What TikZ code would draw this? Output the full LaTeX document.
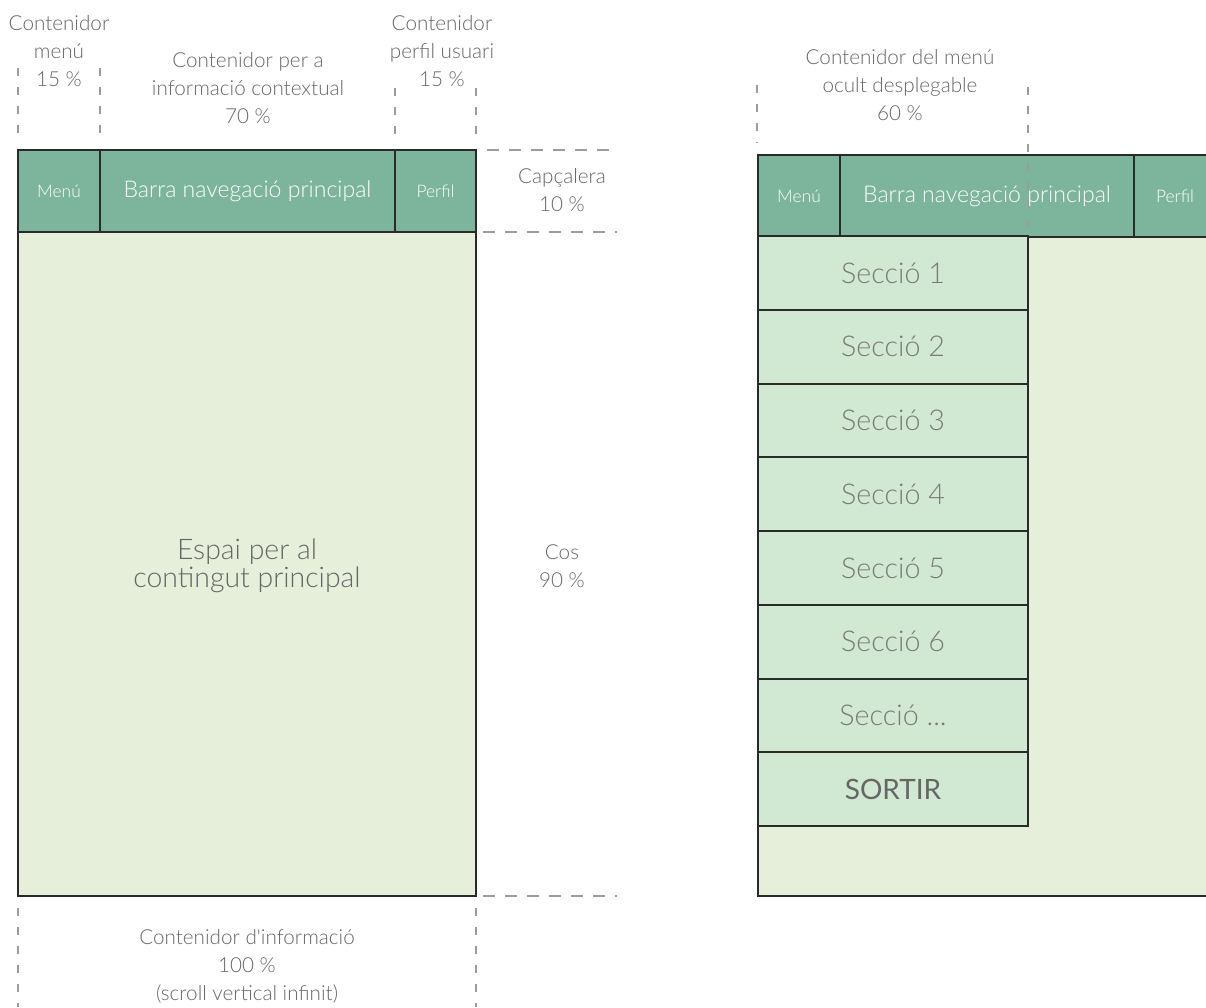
\documentclass[tikz,border=0pt]{standalone}
\usepackage{fontspec}
\setmainfont{Lato}[UprightFont=* Light, BoldFont=* Regular]
\usepackage{xcolor}
\usetikzlibrary{positioning}

\definecolor{capgreen}{HTML}{7DB59C}
\definecolor{cosgreen}{HTML}{E6EFDA}
\definecolor{secgreen}{HTML}{D1E8D3}
\definecolor{labelgray}{HTML}{666666}
\definecolor{secgray}{HTML}{7A7A7A}
\definecolor{guidegray}{HTML}{9C9C9C}
\definecolor{edgegray}{HTML}{2A2A2A}

% one pixel of the layout
\newcommand{\pxu}{0.75pt}

\begin{document}
\begin{tikzpicture}[x=0.75pt, y=-0.75pt, node distance=0pt,
                box/.style={draw=edgegray, line width=1.5pt, inner sep=0pt, outer sep=0pt},
                capcell/.style={box, fill=capgreen, text=white, minimum height=82*\pxu},
                seccell/.style={box, fill=secgreen, text=secgray, minimum width=270*\pxu,
                                minimum height=73.75*\pxu, font=\fontsize{21.5}{24}\selectfont},
                label/.style={text=labelgray, align=center, font=\fontsize{15.5}{21}\selectfont},
                vguide/.style={draw=guidegray, line width=1.6pt, dash pattern=on 8*\pxu off 11*\pxu},
                hguide/.style={draw=guidegray, line width=1.6pt, dash pattern=on 12*\pxu off 10*\pxu}]

      \useasboundingbox (0,0) rectangle (1206,1007);
      \clip (0,0) rectangle (1206,1007);

      % ---- pantalla principal
      \draw[box, fill=cosgreen] (18,232) rectangle (476,896);
      \node[capcell, anchor=north west, minimum width=82*\pxu, font=\fontsize{13}{15}\selectfont] (menu) at (18,150) {Menú};
      \node[capcell, minimum width=295*\pxu, font=\fontsize{17.3}{20}\selectfont] (nav) [right=of menu] {Barra navegació principal};
      \node[capcell, minimum width=81*\pxu, font=\fontsize{13}{15}\selectfont] (perfil) [right=of nav] {Perfil};
      \node[text=labelgray, align=center, font=\fontsize{21.3}{21}\selectfont] (espai) at (247,566) {Espai per al\\contingut principal};

      \node[label] (lmenu) at (59,51) {Contenidor\\menú\\15 \%};
      \node[label] (linfo) at (248,88) {Contenidor per a\\informació contextual\\70 \%};
      \node[label] (lperfil) at (442,51) {Contenidor\\perfil usuari\\15 \%};
      \node[label] (lcap) at (562,190) {Capçalera\\10 \%};
      \node[label] (lcos) at (562,566) {Cos\\90 \%};
      \node[label] (lcont) at (247,966) {Contenidor d\textquotesingle informació\\100 \%\\(scroll vertical infinit)};

      \draw[vguide] (18,68) -- (18,135);
      \draw[vguide] (100,68) -- (100,135);
      \draw[vguide] (395,88) -- (395,135);
      \draw[vguide] (476,88) -- (476,135);
      \draw[vguide] (18,908) -- (18,1007);
      \draw[vguide] (476,908) -- (476,1007);
      \draw[hguide] (487,150) -- (617,150);
      \draw[hguide] (483,232) -- (617,232);
      \draw[hguide] (483,896) -- (617,896);

      % ---- pantalla amb el menú desplegat
      \draw[box, fill=cosgreen] (758,236) rectangle (1216,896);
      \node[capcell, anchor=north west, minimum width=82*\pxu, font=\fontsize{13}{15}\selectfont] (menu2) at (758,155) {Menú};
      \node[capcell, minimum width=294*\pxu, font=\fontsize{17.3}{20}\selectfont] (nav2) [right=of menu2] {Barra navegació principal};
      \node[capcell, minimum width=82*\pxu, font=\fontsize{13}{15}\selectfont] (perfil2) [right=of nav2] {Perfil};

      \node[seccell, anchor=north west] (sec1) at (758,236) {Secció 1};
      \foreach \i [count=\j from 1] in {2,...,6} {
        \node[seccell] (sec\i) [below=of sec\j] {Secció \i};
      }
      \node[seccell] (secx) [below=of sec6] {Secció ...};
      \node[seccell, text=labelgray, font=\fontsize{21}{24}\selectfont\bfseries] (sortir) [below=of secx] {SORTIR};

      \node[label] (locult) at (900,85) {Contenidor del menú\\ocult desplegable\\60 \%};
      \draw[vguide] (757,85) -- (757,143);
      \draw[vguide] (1028,87) -- (1028,236);
  \end{tikzpicture}
\end{document}
